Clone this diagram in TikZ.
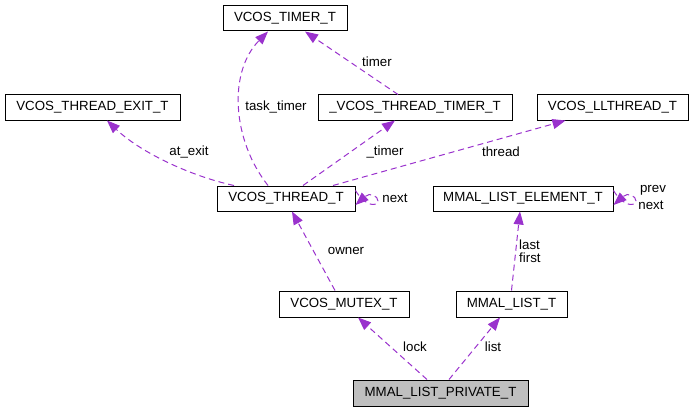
\documentclass[tikz,border=0pt]{standalone}
\usepackage{fontspec}
\setmainfont{Liberation Sans}
\usetikzlibrary{arrows.meta}
\definecolor{edgecol}{HTML}{9A32CD}
\definecolor{privfill}{HTML}{BFBFBF}
\tikzset{
  cls/.style={draw=black, line width=1pt, fill=white, inner sep=0pt, minimum height=25pt,
    font=\fontsize{13.3}{15}\selectfont},
  rel/.style={draw=edgecol, line width=1pt, dash pattern=on 6pt off 4pt,
    -{Triangle[length=13pt,width=10pt]}},
  lbl/.style={inner sep=0pt, font=\fontsize{13.3}{15}\selectfont, align=left}
}
\begin{document}
\begin{tikzpicture}[x=1pt,y=-1pt]
\useasboundingbox (0,0) rectangle (694,412);
% nodes
\node[cls, minimum width=124pt] (timer) at (285,18.5) {VCOS\_TIMER\_T};
\node[cls, minimum width=175pt] (exit) at (92.5,107.5) {VCOS\_THREAD\_EXIT\_T};
\node[cls, minimum width=194pt] (ttimer) at (415,107.5) {\_VCOS\_THREAD\_TIMER\_T};
\node[cls, minimum width=151pt] (llt) at (612.5,107.5) {VCOS\_LLTHREAD\_T};
\node[cls, minimum width=138pt] (thr) at (286,198.5) {VCOS\_THREAD\_T};
\node[cls, minimum width=180pt] (elem) at (523,198.5) {MMAL\_LIST\_ELEMENT\_T};
\node[cls, minimum width=130pt, minimum height=26pt] (mutex) at (344,304) {VCOS\_MUTEX\_T};
\node[cls, minimum width=111pt, minimum height=26pt] (list) at (511.5,304) {MMAL\_LIST\_T};
\node[cls, fill=privfill, minimum width=175pt, minimum height=26pt] (priv) at (440.5,393) {MMAL\_LIST\_PRIVATE\_T};
% edges
\draw[rel] ([xshift=-13.5pt]priv.north) -- ([xshift=14pt]mutex.south);
\node[lbl] (llock) at (415,347) {lock};
\draw[rel] ([xshift=8.5pt]priv.north) -- ([xshift=-11.5pt]list.south);
\node[lbl] (llist) at (493,347) {list};
\draw[rel] (list.north) -- ([xshift=-3pt]elem.south);
\node[lbl, anchor=west] (lfirst) at (519,251) {last\\[-1.5pt]first};
\draw[rel] ([xshift=-9pt]mutex.north) -- ([xshift=6pt]thr.south);
\node[lbl] (lowner) at (346,251) {owner};
\draw[rel] ([xshift=-52pt]thr.north) .. controls (190,176) and (140,152) .. ([xshift=14.5pt]exit.south);
\node[lbl] (lexit) at (189,152) {at\_exit};
\draw[rel] ([xshift=-18pt]thr.north) .. controls (232,140) and (228,72) .. ([xshift=-17pt]timer.south);
\node[lbl] (ltask) at (276,107) {task\_timer};
\draw[rel] ([xshift=17pt]thr.north) -- ([xshift=-20pt]ttimer.south);
\node[lbl] (ltim) at (385,152) {\_timer};
\draw[rel] ([xshift=47pt]thr.north) -- ([xshift=-47pt]llt.south);
\node[lbl] (lthread) at (501,152) {thread};
\draw[rel] ([xshift=-17pt]ttimer.north) -- ([xshift=20pt]timer.south);
\node[lbl] (ltimer) at (377,62) {timer};
% self loops
\draw[rel] ([yshift=8pt]thr.east) .. controls (366,208) and (378,206) .. (378,201)
  .. controls (378,196) and (370,192) .. ([yshift=-6.5pt]thr.east);
\node[lbl] (lnext) at (395,198) {next};
\draw[rel] ([yshift=8pt]elem.east) .. controls (624,208) and (636,206) .. (636,201)
  .. controls (636,196) and (628,192) .. ([yshift=-6.5pt]elem.east);
\node[lbl] (lprev) at (653,190) {prev};
\node[lbl] (lnext2) at (651,205) {next};
\end{tikzpicture}
\end{document}
